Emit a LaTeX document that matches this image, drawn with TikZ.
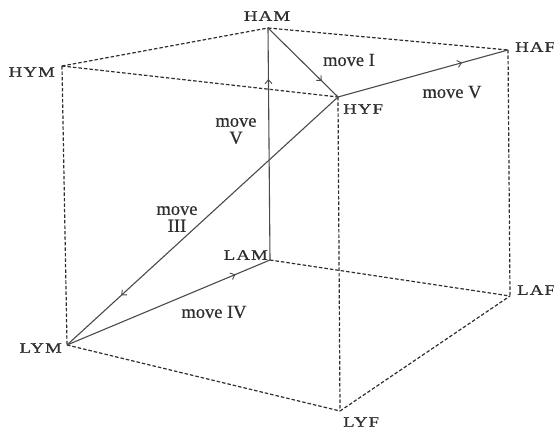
\documentclass[tikz,border=0pt]{standalone}
\usepackage{fontspec}
\setmainfont{Liberation Serif}[FakeBold=0.6]
\newfontfamily\cornerfont{Liberation Serif}[FakeStretch=1.3,LetterSpace=8,FakeBold=0.8]
\usetikzlibrary{arrows.meta,decorations.markings}
\definecolor{ink}{HTML}{2E2E2E}
\definecolor{solidgray}{HTML}{4A4A4A}
\begin{document}
\begin{tikzpicture}[x=1bp,y=-1bp,
  edgedash/.style={draw=ink,line width=1.2bp,dash pattern=on 3.5bp off 2bp},
  move/.style={draw=solidgray,line width=1.1bp},
  midarrow/.style={postaction={decorate},decoration={markings,
     mark=at position #1 with {\arrow{Straight Barb[length=4bp,width=7bp,line width=0.9bp]}}}},
  corner/.style={inner sep=0pt,text=ink,font=\cornerfont\fontsize{14.5}{14.5}\selectfont},
  mlabel/.style={inner sep=0pt,text=ink,align=center,font=\fontsize{18.5}{17}\selectfont}]
\useasboundingbox (0,0) rectangle (554,437);
% corners
\coordinate (HAM) at (268,28);
\coordinate (HYM) at (62,66);
\coordinate (HAF) at (508,50);
\coordinate (HYF) at (338,97);
\coordinate (LAM) at (270,260);
\coordinate (LYM) at (67,345);
\coordinate (LAF) at (510,296);
\coordinate (LYF) at (340,411);
% dashed cube edges
\draw[edgedash] (HYM) -- (HAM);
\draw[edgedash] (HAM) -- (HAF);
\draw[edgedash] (HYM) -- (HYF);
\draw[edgedash] (HYM) -- (LYM);
\draw[edgedash] (HYF) -- (LYF);
\draw[edgedash] (HAF) -- (LAF);
\draw[edgedash] (LAM) -- (LAF);
\draw[edgedash] (LYM) -- (LYF);
\draw[edgedash] (LYF) -- (LAF);
% moves
\draw[move,midarrow=0.78] (LAM) -- (HAM);
\draw[move,midarrow=0.77] (HAM) -- (HYF);
\draw[move,midarrow=0.73] (HYF) -- (HAF);
\draw[move,midarrow=0.80] (HYF) -- (LYM);
\draw[move,midarrow=0.83] (LYM) -- (LAM);
% corner labels
\node[corner] (tHAM) at (267,16) {HAM};
\node[corner,anchor=east] (tHYM) at (55,72) {HYM};
\node[corner,anchor=west] (tHAF) at (515,47) {HAF};
\node[corner,anchor=west] (tHYF) at (343,109) {HYF};
\node[corner,anchor=east] (tLAM) at (268,255) {LAM};
\node[corner,anchor=east] (tLYM) at (62,348) {LYM};
\node[corner,anchor=west] (tLAF) at (517,290) {LAF};
\node[corner,anchor=west] (tLYF) at (343,422) {LYF};
% move labels
\node[mlabel] (m1) at (349,60) {move I};
\node[mlabel] (m5r) at (452,92) {move V};
\node[mlabel] (m5) at (236,131) {move\\V};
\node[mlabel] (m3) at (177,219) {move\\III};
\node[mlabel] (m4) at (214,312) {move IV};
\end{tikzpicture}
\end{document}
